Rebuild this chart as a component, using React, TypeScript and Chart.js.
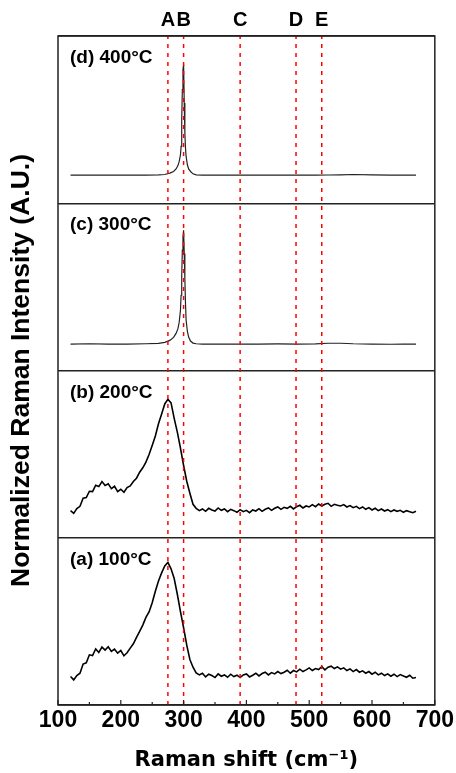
import React, { useEffect, useRef } from "react";
import { Chart, registerables } from "chart.js";

Chart.register(...registerables);

// Raman shift (cm^-1) sampling for the broad, noisy spectra (a) and (b)
const shiftBroad = [
  120, 125, 130, 135, 140, 145, 150, 155, 160, 165,
  170, 175, 180, 185, 190, 195, 200, 205, 210, 215,
  220, 225, 230, 235, 240, 245, 250, 255, 260, 265,
  270, 275, 280, 285, 290, 295, 300, 305, 310, 315,
  320, 325, 330, 335, 340, 345, 350, 355, 360, 365,
  370, 375, 380, 385, 390, 395, 400, 405, 410, 415,
  420, 425, 430, 435, 440, 445, 450, 455, 460, 465,
  470, 475, 480, 485, 490, 495, 500, 505, 510, 515,
  520, 525, 530, 535, 540, 545, 550, 555, 560, 565,
  570, 575, 580, 585, 590, 595, 600, 605, 610, 615,
  620, 625, 630, 635, 640, 645, 650, 655, 660, 665,
  670,
];

// (a) 100°C — normalized intensity within its panel (0 = panel bottom, 1 = panel top)
const intensity100 = [
  0.17, 0.15, 0.176, 0.19, 0.245, 0.252, 0.3, 0.296, 0.335, 0.314,
  0.346, 0.328, 0.348, 0.32, 0.334, 0.31, 0.326, 0.294, 0.312, 0.34,
  0.366, 0.404, 0.44, 0.478, 0.524, 0.556, 0.612, 0.68, 0.742, 0.79,
  0.832, 0.852, 0.814, 0.756, 0.662, 0.558, 0.462, 0.358, 0.272, 0.226,
  0.192, 0.18, 0.19, 0.168, 0.184, 0.176, 0.164, 0.186, 0.172, 0.18,
  0.166, 0.184, 0.17, 0.178, 0.164, 0.18, 0.186, 0.168, 0.178, 0.19,
  0.174, 0.188, 0.196, 0.18, 0.194, 0.186, 0.2, 0.188, 0.196, 0.208,
  0.19, 0.206, 0.198, 0.214, 0.2, 0.21, 0.222, 0.206, 0.218, 0.212,
  0.23, 0.21, 0.226, 0.232, 0.218, 0.228, 0.214, 0.222, 0.206, 0.216,
  0.2, 0.212, 0.196, 0.204, 0.19, 0.2, 0.184, 0.196, 0.18, 0.19,
  0.176, 0.186, 0.172, 0.184, 0.17, 0.182, 0.174, 0.166, 0.178, 0.16,
  0.164,
];

// (b) 200°C
const intensity200 = [
  0.162, 0.146, 0.174, 0.188, 0.236, 0.24, 0.278, 0.276, 0.314, 0.306,
  0.336, 0.312, 0.322, 0.294, 0.308, 0.276, 0.29, 0.272, 0.3, 0.31,
  0.336, 0.356, 0.392, 0.418, 0.452, 0.498, 0.552, 0.608, 0.682, 0.74,
  0.8, 0.828, 0.806, 0.714, 0.632, 0.536, 0.432, 0.338, 0.266, 0.2,
  0.176, 0.162, 0.172, 0.158, 0.176, 0.166, 0.16, 0.178, 0.164, 0.172,
  0.156, 0.17, 0.162, 0.152, 0.168, 0.156, 0.164, 0.15, 0.166, 0.16,
  0.174, 0.158, 0.17, 0.178, 0.164, 0.176, 0.184, 0.17, 0.182, 0.176,
  0.188, 0.172, 0.186, 0.194, 0.178, 0.19, 0.184, 0.198, 0.186, 0.202,
  0.19, 0.2, 0.206, 0.188, 0.2, 0.194, 0.19, 0.198, 0.184, 0.192,
  0.18, 0.188, 0.174, 0.184, 0.17, 0.18, 0.166, 0.176, 0.162, 0.172,
  0.16, 0.168, 0.156, 0.166, 0.158, 0.164, 0.152, 0.162, 0.156, 0.15,
  0.158,
];

// Raman shift sampling for the sharp-peaked spectra (c) and (d)
const shiftSharp = [
  120, 150, 180, 210, 240, 260, 270, 278, 284, 288,
  291, 293, 295, 296, 297, 298, 299, 300, 301, 302,
  303, 304, 306, 308, 311, 315, 320, 330, 360, 390,
  420, 450, 480, 510, 530, 550, 570, 600, 630, 650,
  670,
];

// (c) 300°C
const intensity300 = [
  0.158, 0.16, 0.158, 0.158, 0.16, 0.162, 0.168, 0.18, 0.198, 0.222,
  0.25, 0.29, 0.36, 0.45, 0.56, 0.72, 0.8, 0.838, 0.7, 0.55,
  0.4, 0.3, 0.235, 0.2, 0.176, 0.164, 0.16, 0.158, 0.158, 0.158,
  0.158, 0.159, 0.158, 0.159, 0.163, 0.163, 0.16, 0.158, 0.157, 0.158,
  0.158,
];

// (d) 400°C
const intensity400 = [
  0.168, 0.168, 0.168, 0.168, 0.168, 0.17, 0.172, 0.18, 0.19, 0.205,
  0.225, 0.25, 0.29, 0.34, 0.5, 0.68, 0.8, 0.828, 0.6, 0.42,
  0.33, 0.28, 0.23, 0.205, 0.19, 0.176, 0.17, 0.168, 0.168, 0.168,
  0.168, 0.168, 0.168, 0.168, 0.169, 0.17, 0.172, 0.17, 0.168, 0.169,
  0.168,
];

const panelLabels = ["(a) 100°C", "(b) 200°C", "(c) 300°C", "(d) 400°C"];

// Reference lines
const markerShift = [275, 300, 390, 479, 520];
const markerLetters = ["A", "B", "C", "D", "E"];

// Axis ticks
const majorTicks = [100, 200, 300, 400, 500, 600, 700];
const minorTicks = [150, 250, 350, 450, 550, 650];

const framePlugin = {
  id: "frame",
  afterDraw(chart: any) {
    const { ctx, chartArea, scales } = chart;
    const { left, right, top, bottom } = chartArea;
    ctx.save();
    ctx.setLineDash([]);
    ctx.strokeStyle = "#222";
    ctx.lineWidth = 1.5;
    ctx.strokeRect(left, top, right - left, bottom - top);
    const xs = scales.x;
    ctx.lineWidth = 1.2;
    ctx.beginPath();
    majorTicks.forEach((v) => {
      const px = xs.getPixelForValue(v);
      ctx.moveTo(px, bottom);
      ctx.lineTo(px, bottom - 5);
    });
    minorTicks.forEach((v) => {
      const px = xs.getPixelForValue(v);
      ctx.moveTo(px, bottom);
      ctx.lineTo(px, bottom - 3);
    });
    ctx.stroke();
    ctx.fillStyle = "#000";
    ctx.font = 'bold 19px "Liberation Sans", Arial, sans-serif';
    ctx.textBaseline = "middle";
    ctx.textAlign = "left";
    panelLabels.forEach((t, i) => {
      const py = scales.y.getPixelForValue(i + 1);
      ctx.fillText(t, left + 12, py + 22);
    });
    ctx.restore();
  },
};

export default function App() {
  const ref = useRef<HTMLCanvasElement | null>(null);

  useEffect(() => {
    if (!ref.current) return;
    const spectra = [
      { x: shiftBroad, y: intensity100, w: 1.6, c: "#000" },
      { x: shiftBroad, y: intensity200, w: 1.6, c: "#000" },
      { x: shiftSharp, y: intensity300, w: 1.2, c: "#222" },
      { x: shiftSharp, y: intensity400, w: 1.2, c: "#222" },
    ];
    const markerSets = markerShift.map((s, i) => ({
      type: "line" as const,
      label: markerLetters[i],
      order: 0,
      data: [
        { x: s, y: 0 },
        { x: s, y: 4 },
      ],
      borderColor: "rgb(255,0,0)",
      backgroundColor: "rgb(255,0,0)",
      borderWidth: 1.5,
      borderDash: [4, 5],
      pointRadius: 0,
      tension: 0,
      fill: false,
    }));
    const spectraSets = spectra.map((sp, i) => ({
      type: "line" as const,
      label: panelLabels[i],
      order: 1,
      data: sp.x.map((x, k) => ({ x, y: i + sp.y[k] })),
      borderColor: sp.c,
      backgroundColor: sp.c,
      borderWidth: sp.w,
      pointRadius: 0,
      tension: 0,
      fill: false,
    }));

    const chart = new Chart(ref.current, {
      type: "line",
      data: { datasets: [...markerSets, ...spectraSets] as any },
      options: {
        animation: false,
        responsive: true,
        maintainAspectRatio: false,
        devicePixelRatio: 1,
        layout: { padding: { left: 0, right: 19, top: 0, bottom: 0 } },
        plugins: { legend: { display: false }, tooltip: { enabled: false } },
        scales: {
          x: {
            type: "linear",
            position: "bottom",
            min: 100,
            max: 700,
            grid: { display: false, drawTicks: false },
            border: { display: false },
            afterBuildTicks: (s: any) => {
              s.ticks = majorTicks.map((v) => ({ value: v }));
            },
            ticks: {
              autoSkip: false,
              maxRotation: 0,
              padding: 2,
              color: "#000",
              font: { family: '"Liberation Sans", Arial, sans-serif', size: 23, weight: "bold" },
            },
            title: {
              display: true,
              text: "Raman shift (cm⁻¹)",
              color: "#000",
              padding: { top: 0, bottom: 0 },
              font: { family: '"DejaVu Sans", sans-serif', size: 21, weight: "bold" },
            },
            afterFit: (s: any) => {
              s.height = 68;
            },
          },
          xTop: {
            type: "linear",
            position: "top",
            min: 100,
            max: 700,
            grid: { display: false, drawTicks: false },
            border: { display: false },
            afterBuildTicks: (s: any) => {
              s.ticks = markerShift.map((v) => ({ value: v }));
            },
            ticks: {
              autoSkip: false,
              maxRotation: 0,
              padding: 4,
              color: "#000",
              font: { family: '"Liberation Sans", Arial, sans-serif', size: 20, weight: "bold" },
              callback: (_v: any, i: number) => markerLetters[i],
            },
            afterFit: (s: any) => {
              s.height = 36;
            },
          },
          y: {
            type: "linear",
            min: 0,
            max: 4,
            afterBuildTicks: (s: any) => {
              s.ticks = [0, 1, 2, 3, 4].map((v) => ({ value: v }));
            },
            grid: { color: "#222", lineWidth: 1.5, drawTicks: false },
            border: { display: false },
            ticks: { display: false },
            title: {
              display: true,
              text: "Normalized Raman Intensity (A.U.)",
              color: "#000",
              padding: { top: 6, bottom: 0 },
              font: { family: '"Liberation Sans", Arial, sans-serif', size: 26.5, weight: "bold" },
            },
            afterFit: (s: any) => {
              s.width = 58;
            },
          },
        },
      },
      plugins: [framePlugin],
    });
    return () => chart.destroy();
  }, []);

  return (
    <div style={{ position: "absolute", left: 0, top: 0, width: 456, height: 773, background: "#fff" }}>
      <canvas ref={ref} />
    </div>
  );
}
